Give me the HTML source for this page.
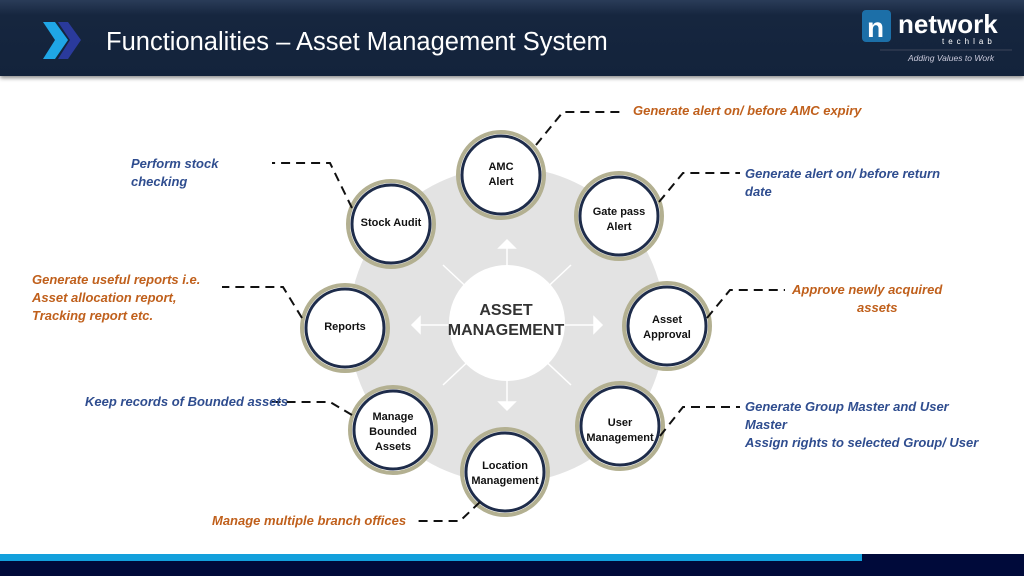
<!DOCTYPE html>
<html><head><style>
body{margin:0;width:1024px;height:576px;position:relative;overflow:hidden;background:#fff;font-family:"Liberation Sans",sans-serif}
.hdr{position:absolute;left:0;top:0;width:1024px;height:76px;background:linear-gradient(#2a3c58,#16263f 20%,#13233b);box-shadow:0 2px 4px #888}
.t{position:absolute;font-style:italic;font-weight:bold;font-size:13px;line-height:18px}
.b{color:#2f4d8f}.o{color:#c0601c}
.n{position:absolute;font-weight:bold;font-size:11px;line-height:15px;text-align:center;color:#111;width:90px}
</style></head><body>
<div class="hdr"></div>
<svg style="position:absolute;left:0;top:0" width="1024" height="576">
<polygon points="43,22 55,22 68,40 55,59 43,59 55,40" fill="#1fa6e6"/>
<polygon points="58,22 68,22 81,40 68,59 58,59 70,40" fill="#2a3a9c"/>
<text x="106" y="50" fill="#fff" font-size="25.5" font-family="Liberation Sans">Functionalities – Asset Management System</text>
<rect x="862" y="10" width="29" height="32" rx="4" fill="#1c6fa8"/>
<text x="867" y="37" fill="#fff" font-size="28" font-weight="bold" font-family="Liberation Sans">n</text>
<text x="898" y="33" fill="#fff" font-size="26" font-weight="bold" font-family="Liberation Sans">network</text>
<text x="942" y="44" fill="#fff" font-size="8" letter-spacing="4" font-family="Liberation Sans">techlab</text>
<line x1="880" y1="50" x2="1012" y2="50" stroke="#667" stroke-width="0.6"/>
<text x="908" y="61" fill="#ccd" font-size="8.5" font-style="italic" font-family="Liberation Sans">Adding Values to Work</text>

<circle cx="507" cy="325" r="158" fill="#e3e3e3"/>
<g stroke="#fff" stroke-width="1.5" fill="#fff">
<line x1="507" y1="325" x2="507" y2="248"/><polygon points="499,248 515,248 507,240"/>
<line x1="507" y1="325" x2="507" y2="402"/><polygon points="499,402 515,402 507,410"/>
<line x1="507" y1="325" x2="420" y2="325"/><polygon points="420,317 420,333 412,325"/>
<line x1="507" y1="325" x2="594" y2="325"/><polygon points="594,317 594,333 602,325"/>
<line x1="507" y1="325" x2="443" y2="265"/><line x1="507" y1="325" x2="571" y2="265"/>
<line x1="507" y1="325" x2="443" y2="385"/><line x1="507" y1="325" x2="571" y2="385"/>
</g>
<circle cx="507" cy="323" r="58" fill="#fff"/>
<text x="506" y="315" text-anchor="middle" font-size="16" font-weight="bold" fill="#333" font-family="Liberation Sans">ASSET</text>
<text x="506" y="335" text-anchor="middle" font-size="16" font-weight="bold" fill="#333" font-family="Liberation Sans">MANAGEMENT</text>
<g fill="#fff" stroke="#1e2c4a" stroke-width="3">
<circle cx="501" cy="175" r="39"/>
<circle cx="391" cy="224" r="39"/>
<circle cx="619" cy="216" r="39"/>
<circle cx="345" cy="328" r="39"/>
<circle cx="667" cy="326" r="39"/>
<circle cx="393" cy="430" r="39"/>
<circle cx="620" cy="426" r="39"/>
<circle cx="505" cy="472" r="39"/>
</g>
<g fill="none" stroke="#b3b091" stroke-width="4">
<circle cx="501" cy="175" r="43"/><circle cx="391" cy="224" r="43"/><circle cx="619" cy="216" r="43"/><circle cx="345" cy="328" r="43"/>
<circle cx="667" cy="326" r="43"/><circle cx="393" cy="430" r="43"/><circle cx="620" cy="426" r="43"/><circle cx="505" cy="472" r="43"/>
</g>
<g fill="none" stroke="#111" stroke-width="2" stroke-dasharray="9,6">
<polyline points="536,145 563,112 625,112"/>
<polyline points="352,208 330,163 272,163"/>
<polyline points="659,202 683,173 740,173"/>
<polyline points="302,318 283,287 222,287"/>
<polyline points="707,318 730,290 785,290"/>
<polyline points="352,415 330,402 272,402"/>
<polyline points="660,436 683,407 740,407"/>
<polyline points="480,502 460,521 415,521"/>
</g>
<rect x="0" y="554" width="862" height="7" fill="#13a0dc"/>
<rect x="862" y="554" width="162" height="7" fill="#000a3a"/>
<rect x="0" y="561" width="1024" height="15" fill="#000a3a"/>
</svg>
<div class="n" style="left:456px;top:160px">AMC<br>Alert</div>
<div class="n" style="left:346px;top:216px">Stock Audit</div>
<div class="n" style="left:574px;top:205px">Gate pass<br>Alert</div>
<div class="n" style="left:300px;top:320px">Reports</div>
<div class="n" style="left:622px;top:313px">Asset<br>Approval</div>
<div class="n" style="left:348px;top:410px">Manage<br>Bounded<br>Assets</div>
<div class="n" style="left:575px;top:416px">User<br>Management</div>
<div class="n" style="left:460px;top:459px">Location<br>Management</div>
<div class="t o" style="left:633px;top:102px">Generate alert on/ before AMC expiry</div>
<div class="t b" style="left:131px;top:155px">Perform stock<br>checking</div>
<div class="t b" style="left:745px;top:165px">Generate alert on/ before return<br>date</div>
<div class="t o" style="left:32px;top:271px">Generate useful reports i.e.<br>Asset allocation report,<br>Tracking report etc.</div>
<div class="t o" style="left:792px;top:281px">Approve newly acquired<br>&nbsp;&nbsp;&nbsp;&nbsp;&nbsp;&nbsp;&nbsp;&nbsp;&nbsp;&nbsp;&nbsp;&nbsp;&nbsp;&nbsp;&nbsp;&nbsp;&nbsp;&nbsp;assets</div>
<div class="t b" style="left:85px;top:393px">Keep records of Bounded assets</div>
<div class="t b" style="left:745px;top:398px">Generate Group Master and User<br>Master<br>Assign rights to selected Group/ User</div>
<div class="t o" style="left:212px;top:512px">Manage multiple branch offices</div>
</body></html>
